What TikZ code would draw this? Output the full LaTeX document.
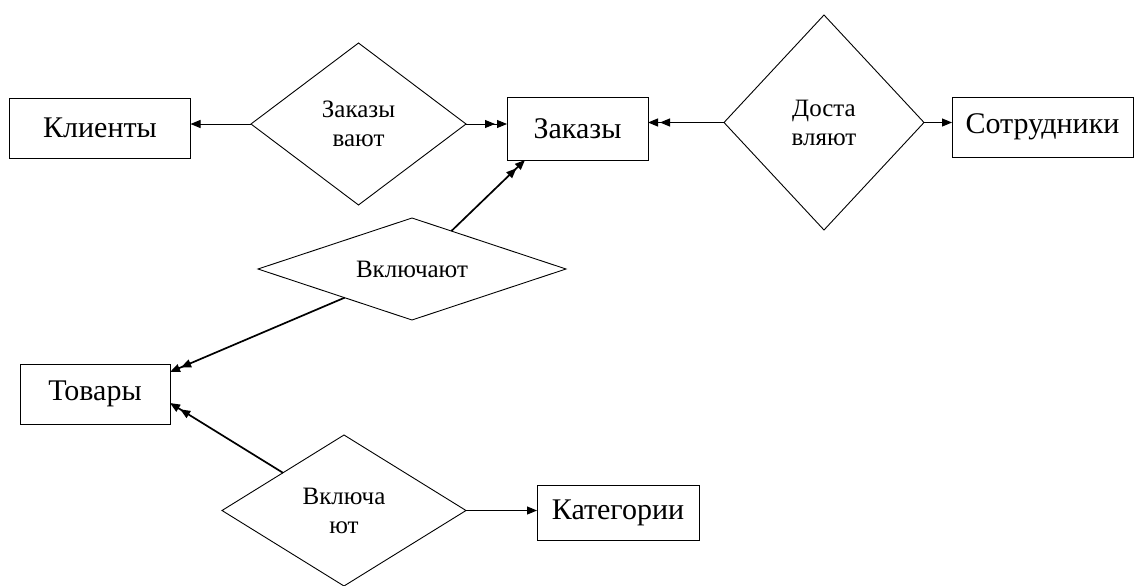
\documentclass[tikz,border=0pt]{standalone}
\usepackage{fontspec}
\setmainfont{Liberation Serif}
\usetikzlibrary{shapes.geometric,arrows.meta,calc}
\begin{document}
\begin{tikzpicture}[x=1pt,y=-1pt,
  entity/.style={draw,line width=1pt,inner sep=0pt,outer sep=0pt,
    font=\fontsize{30}{34}\selectfont},
  rel/.style={draw,diamond,line width=0.9pt,inner sep=0pt,outer sep=0pt,
    align=center,font=\fontsize{25}{29}\selectfont},
  one/.style={-{Triangle[length=10pt,width=8pt]},line width=1pt},
  many/.style={-{Triangle[length=10pt,width=8pt,sep=2pt]Triangle[length=10pt,width=8pt]},line width=1pt},
  bold/.style={line width=1.7pt}]
\fill[white] (0,0) rectangle (1135,586);
\useasboundingbox (0,0) rectangle (1135,586);

% entities
\node[entity,minimum width=181pt,minimum height=60pt] (kl)  at (100,128)    {Клиенты};
\node[entity,minimum width=141pt,minimum height=63pt] (zak) at (577.5,128.5) {Заказы};
\node[entity,minimum width=181pt,minimum height=60pt] (sot) at (1042.5,127) {Сотрудники};
\node[entity,minimum width=150pt,minimum height=60pt] (tov) at (95,394)     {Товары};
\node[entity,minimum width=162pt,minimum height=55pt] (kat) at (618,512.5)  {Категории};

% relationships
\node[rel,minimum width=215pt,minimum height=162pt] (zv) at (358.5,124) {Заказы\\вают};
\node[rel,minimum width=200pt,minimum height=215pt] (dv) at (824,122.5) {Доста\\вляют};
\node[rel,shape aspect=3,minimum width=308pt,minimum height=102pt] (vk) at (412,269) {Включают};
\node[rel,minimum width=244pt,minimum height=151pt] (vt) at (344,510.5) {Включа\\ют};

% connectors
\draw[one]  (zv.west) -- (zv.west -| kl.east);
\draw[many] (zv.east) -- (zv.east -| zak.west);
\draw[many] (dv.west) -- (dv.west -| zak.east);
\draw[one]  (dv.east) -- (dv.east -| sot.west);
\draw[one]  (vt.east) -- (vt.east -| kat.west);
\draw[many,bold] (vk) -- ($(zak.south west)+(18,0)$);
\draw[many,bold] (vk) -- ($(tov.north east)+(0,8)$);
\draw[many,bold] (vt) -- ($(tov.east)+(0,9)$);
\end{tikzpicture}
\end{document}
